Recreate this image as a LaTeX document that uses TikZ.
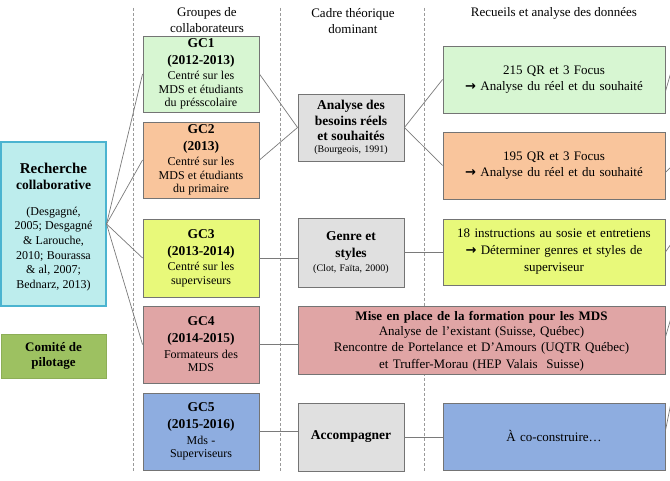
\documentclass[tikz,border=0pt]{standalone}
\usepackage{fontspec}
\setmainfont{Liberation Serif}
\newfontfamily\arrowfont{DejaVu Sans}
\usetikzlibrary{shadows}
\definecolor{bordergray}{HTML}{747474}
\definecolor{gcgreen}{HTML}{D7F6D2}
\definecolor{gcorange}{HTML}{F9C59C}
\definecolor{gcyellow}{HTML}{E8F97A}
\definecolor{gcpink}{HTML}{E0A5A5}
\definecolor{gcblue}{HTML}{8EADE0}
\definecolor{midgray}{HTML}{E0E0E0}
\definecolor{rcyan}{HTML}{BDEDED}
\definecolor{rcyanb}{HTML}{4BB4D0}
\definecolor{olivebox}{HTML}{9DC161}
\definecolor{dashgray}{HTML}{9A9A9A}
\definecolor{linegray}{HTML}{7A7A7A}
\newcommand{\Rarr}{{\arrowfont\bfseries\fontsize{13}{13}\selectfont →}}
\newcommand{\BigB}[1]{{\fontsize{13.5}{17}\selectfont\bfseries #1\par}}
\newcommand{\NormT}[1]{{\fontsize{12}{13.5}\selectfont\vspace{2pt}#1\par}}
\begin{document}
\begin{tikzpicture}[x=1pt,y=-1pt,
  box/.style={draw=bordergray, line width=0.9pt, inner sep=0pt, align=center,
    drop shadow={shadow xshift=1.3pt, shadow yshift=-1.3pt, opacity=0.35, fill=black}},
  conn/.style={draw=linegray, line width=0.7pt},
  sep/.style={draw=dashgray, line width=0.8pt, dash pattern=on 3pt off 2pt},
  head/.style={align=center, inner sep=0pt, font=\fontsize{13}{15.5}\selectfont},
  gcbox/.style={box, minimum width=116pt, text width=112pt},
  midbox/.style={box, fill=midgray, minimum width=106pt, text width=102pt},
  rbox/.style={box, minimum width=222pt, text width=216pt, minimum height=67pt, font=\fontsize{13}{15.5}\selectfont}]
\useasboundingbox (0,0) rectangle (670,481);

% separators
\draw[sep] (133,8) -- (133,472);
\draw[sep] (280,8) -- (280,472);
\draw[sep] (424,8) -- (424,472);

% headers
\node[head] (h1) at (207,20) {Groupes de\\collaborateurs};
\node[head] (h2) at (353,21) {Cadre théorique\\dominant};
\node[head] (h3) at (554,13) {Recueils et analyse des données};

% left boxes
\node[draw=rcyanb, line width=1.1pt, fill=rcyan, minimum width=105pt, minimum height=164pt, inner sep=0pt,
  drop shadow={shadow xshift=1.3pt, shadow yshift=-1.3pt, opacity=0.3, fill=black}] (rc) at (53.5,224) {};
\node[text width=101pt, inner sep=0pt, align=center] (rctext) at (53.5,227)
 {{\fontsize{15}{16}\selectfont\bfseries Recherche\par}
  {\fontsize{13.5}{16}\selectfont\bfseries collaborative\par}
  \vspace{11pt}
  {\fontsize{12}{14.6}\selectfont (Desgagné,\\2005; Desgagné\\\& Larouche,\\2010; Bourassa\\\& al, 2007;\\Bednarz, 2013)\par}};
\node[draw=olivebox!90!black, line width=0.5pt, fill=olivebox, minimum width=105pt, minimum height=44pt, text width=101pt, inner sep=0pt, align=center,
  drop shadow={shadow xshift=1.3pt, shadow yshift=-1.3pt, opacity=0.3, fill=black}] (cp) at (53.5,356)
 {{\fontsize{13}{15}\selectfont\bfseries Comité de\\pilotage\par}};

% GC boxes
\node[gcbox, fill=gcgreen, minimum height=76pt] (gc1) at (201,74)
 {\BigB{GC1\\(2012-2013)}\NormT{Centré sur les\\MDS et étudiants\\du présscolaire}};
\node[gcbox, fill=gcorange, minimum height=76pt] (gc2) at (201,160)
 {\BigB{GC2\\(2013)}\NormT{Centré sur les\\MDS et étudiants\\du primaire}};
\node[gcbox, fill=gcyellow, minimum height=78pt] (gc3) at (201,258)
 {\BigB{GC3\\(2013-2014)}\NormT{Centré sur les\\superviseurs}};
\node[gcbox, fill=gcpink, minimum height=77pt] (gc4) at (201,344.5)
 {\BigB{GC4\\(2014-2015)}\NormT{Formateurs des\\MDS}};
\node[gcbox, fill=gcblue, minimum height=77pt] (gc5) at (201,431.5)
 {\BigB{GC5\\(2015-2016)}\NormT{Mds -\\Superviseurs}};

% middle boxes
\node[midbox, minimum height=67pt] (abr) at (351,127.5)
 {{\fontsize{13.5}{15.5}\selectfont\bfseries Analyse des\\besoins réels\\et souhaités\par}
  {\fontsize{10}{11.5}\selectfont (Bourgeois, 1991)\par}};
\node[midbox, minimum height=69pt] (gs) at (351,252.5)
 {{\fontsize{13.5}{16.5}\selectfont\bfseries Genre et\\styles\par}
  {\fontsize{10}{14}\selectfont (Clot, Faïta, 2000)\par}};
\node[midbox, minimum height=68pt] (acc) at (351,437)
 {{\fontsize{13.5}{15}\selectfont\bfseries Accompagner\par}};
\node[box, fill=gcpink, minimum width=367pt, minimum height=68pt] (mise) at (481.5,340) {};
\node[text width=360pt, inner sep=0pt, align=center, font=\fontsize{13}{16.5}\selectfont] (misetext) at (481.5,341.5)
 {{\bfseries Mise en place de la formation pour les MDS}\\[-2pt]Analyse de l’existant (Suisse, Québec)\\Rencontre de Portelance et D’Amours (UQTR Québec)\\et Truffer-Morau (HEP Valais\ \ Suisse)};

% right boxes
\node[rbox, fill=gcgreen] (r1) at (554,79.5) {215 QR et 3 Focus\\\Rarr{} Analyse du réel et du souhaité};
\node[rbox, fill=gcorange] (r2) at (554,165.5) {195 QR et 3 Focus\\\Rarr{} Analyse du réel et du souhaité};
\node[rbox, fill=gcyellow, minimum height=66pt, font=\fontsize{13}{17}\selectfont] (r3) at (554,252) {18 instructions au sosie et entretiens\\\Rarr{} Déterminer genres et styles de\\superviseur};
\node[rbox, fill=gcblue] (r5) at (554,436.5) {À co-construire…};

% connectors
\foreach \g in {gc1,gc2,gc3,gc4} \draw[conn] (rc.east) -- (\g.west);
\draw[conn] (gc1.east) -- (abr.west);
\draw[conn] (gc2.east) -- (abr.west);
\draw[conn] (gc3.east) -- (gc3.east -| gs.west);
\draw[conn] (gc4.east) -- (gc4.east -| mise.west);
\draw[conn] (gc5.east) -- (gc5.east -| acc.west);
\draw[conn] (abr.east) -- (r1.west);
\draw[conn] (abr.east) -- (r2.west);
\draw[conn] (gs.east) -- (gs.east -| r3.west);
\draw[conn] (acc.east) -- (acc.east -| r5.west);

% connectors leaving the frame on the right
\coordinate (o1) at (671,72);
\coordinate (o2) at (671,167);
\coordinate (o3) at (671,244);
\coordinate (o4) at (671,318);
\coordinate (o5) at (671,403);
\draw[conn] ([yshift=-12pt]r1.east) -- (o1);
\draw[conn] ([yshift=-7pt]r2.east) -- (o2);
\draw[conn] (r3.east) -- (o3);
\draw[conn] ([yshift=3pt]mise.east) -- (o4);
\draw[conn] ([yshift=6pt]r5.east) -- (o5);
\end{tikzpicture}
\end{document}
